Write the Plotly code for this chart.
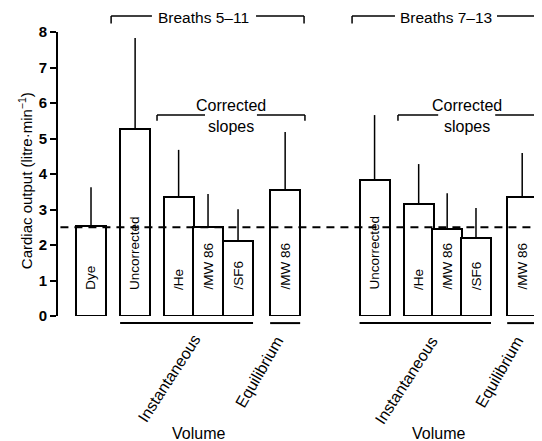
import plotly.graph_objects as go

# ---- data ----
labels = ["Dye", "Uncorrected", "/He", "/MW 86", "/SF6", "/MW 86",
          "Uncorrected", "/He", "/MW 86", "/SF6", "/MW 86"]
positions = [1.1, 2.57, 4.02, 5.0, 6.0, 7.57,
             10.55, 12.02, 12.97, 13.93, 15.47]
means = [2.54, 5.27, 3.35, 2.5, 2.1, 3.55,
         3.82, 3.15, 2.45, 2.2, 3.35]
upper = [3.63, 7.83, 4.68, 3.44, 3.01, 5.18,
         5.66, 4.28, 3.46, 3.04, 4.59]
dye_reference = 2.5
y_ticks = [0, 1, 2, 3, 4, 5, 6, 7, 8]

FONT = "Liberation Sans, Arial, Helvetica, sans-serif"

fig = go.Figure()
fig.add_trace(go.Bar(
    x=positions, y=means, width=1.0,
    marker=dict(color="white", line=dict(color="black", width=2)),
    error_y=dict(type="data", symmetric=False,
                 array=[u - m for u, m in zip(upper, means)],
                 arrayminus=[0] * len(means),
                 width=0, thickness=1.5, color="black"),
    showlegend=False, hoverinfo="skip",
))

shapes = []
annotations = []


def txt(x, y, text, xref="x", yref="paper", angle=0, size=16, **kw):
    annotations.append(dict(x=x, y=y, xref=xref, yref=yref, text=text,
                            textangle=angle, showarrow=False,
                            xanchor=kw.pop("xanchor", "center"),
                            yanchor=kw.pop("yanchor", "middle"),
                            font=dict(size=size, color="black", family=FONT), **kw))


def seg(x0, x1, y0, y1, yref, width=1.5, xref="x"):
    shapes.append(dict(type="line", xref=xref, yref=yref, x0=x0, x1=x1, y0=y0, y1=y1,
                       line=dict(color="black", width=width)))


# labels inside bars
for p, lab in zip(positions, labels):
    txt(p, 0.68, lab, yref="y", angle=-90, yanchor="bottom", size=13.5)

# dashed reference line (dye)
shapes.append(dict(type="line", xref="paper", yref="y", x0=0.005, x1=1,
                   y0=dye_reference, y1=dye_reference, layer="above",
                   line=dict(color="black", width=2, dash="8px,6px")))

# "Breaths" brackets (line gap instead of a background box)
for (i0, i1, off0, off1, gap, label) in [
        (1, 5, -0.8, 0.63, (3.13, 6.6), "Breaths 5\u201311"),
        (6, 10, -0.75, 0.53, (11.23, 14.63), "Breaths 7\u201313")]:
    x0 = positions[i0] + off0
    x1 = positions[i1] + off1
    seg(x0, gap[0], 1.056, 1.056, "paper")
    seg(gap[1], x1, 1.056, 1.056, "paper")
    seg(x0, x0, 1.056, 1.03, "paper")
    seg(x1, x1, 1.056, 1.03, "paper")
    txt((gap[0] + gap[1]) / 2, 1.052, label, size=15.5)

# "Corrected slopes" brackets
for (i0, i1, off0, off1, gap) in [(2, 5, -0.72, 0.66, (4.9, 6.63)),
                                  (7, 10, -0.69, 0.6, (12.67, 14.57))]:
    x0 = positions[i0] + off0
    x1 = positions[i1] + off1
    seg(x0, gap[0], 5.66, 5.66, "y")
    seg(gap[1], x1, 5.66, 5.66, "y")
    seg(x0, x0, 5.66, 5.5, "y")
    seg(x1, x1, 5.66, 5.5, "y")
    cx = (gap[0] + gap[1]) / 2
    txt(cx, 5.92, "Corrected", yref="y")
    txt(cx, 5.35, "slopes", yref="y")

# lines under bars (Instantaneous / Equilibrium)
for (i0, i1) in [(1, 4), (5, 5), (6, 9), (10, 10)]:
    seg(positions[i0] - 0.5, positions[i1] + 0.5, -0.025, -0.025, "paper", width=2)

# rotated category labels and "Volume"
for (x, y, ang, label) in [(3.73, -0.218, -57, "Instantaneous"),
                           (6.73, -0.197, -60, "Equilibrium"),
                           (11.63, -0.225, -57, "Instantaneous"),
                           (14.73, -0.197, -60, "Equilibrium")]:
    txt(x, y, label, angle=ang)
for x in (4.67, 12.67):
    txt(x, -0.415, "Volume")

# y-axis title
txt(-0.068, 0.475, "Cardiac output (litre\u00b7min<sup>\u22121</sup>)",
    xref="paper", angle=-90, size=15)

# page body has an 8px margin: figure is 8px smaller, margins shifted by 8px
fig.update_layout(
    width=534, height=433,
    margin=dict(l=50, r=0, t=24, b=125),
    paper_bgcolor="white", plot_bgcolor="white",
    font=dict(family=FONT, color="black"),
    bargap=0,
    shapes=shapes, annotations=annotations,
    xaxis=dict(range=[0, 16.13], visible=False, fixedrange=True),
    yaxis=dict(range=[0, 8], tickvals=y_ticks, showgrid=False, zeroline=False,
               showline=True, linewidth=2, linecolor="black",
               ticks="outside", ticklen=6, tickwidth=2, tickcolor="black",
               tickfont=dict(size=15, family=FONT, color="black", weight="bold"),
               fixedrange=True),
)

fig.write_html("out.html")
